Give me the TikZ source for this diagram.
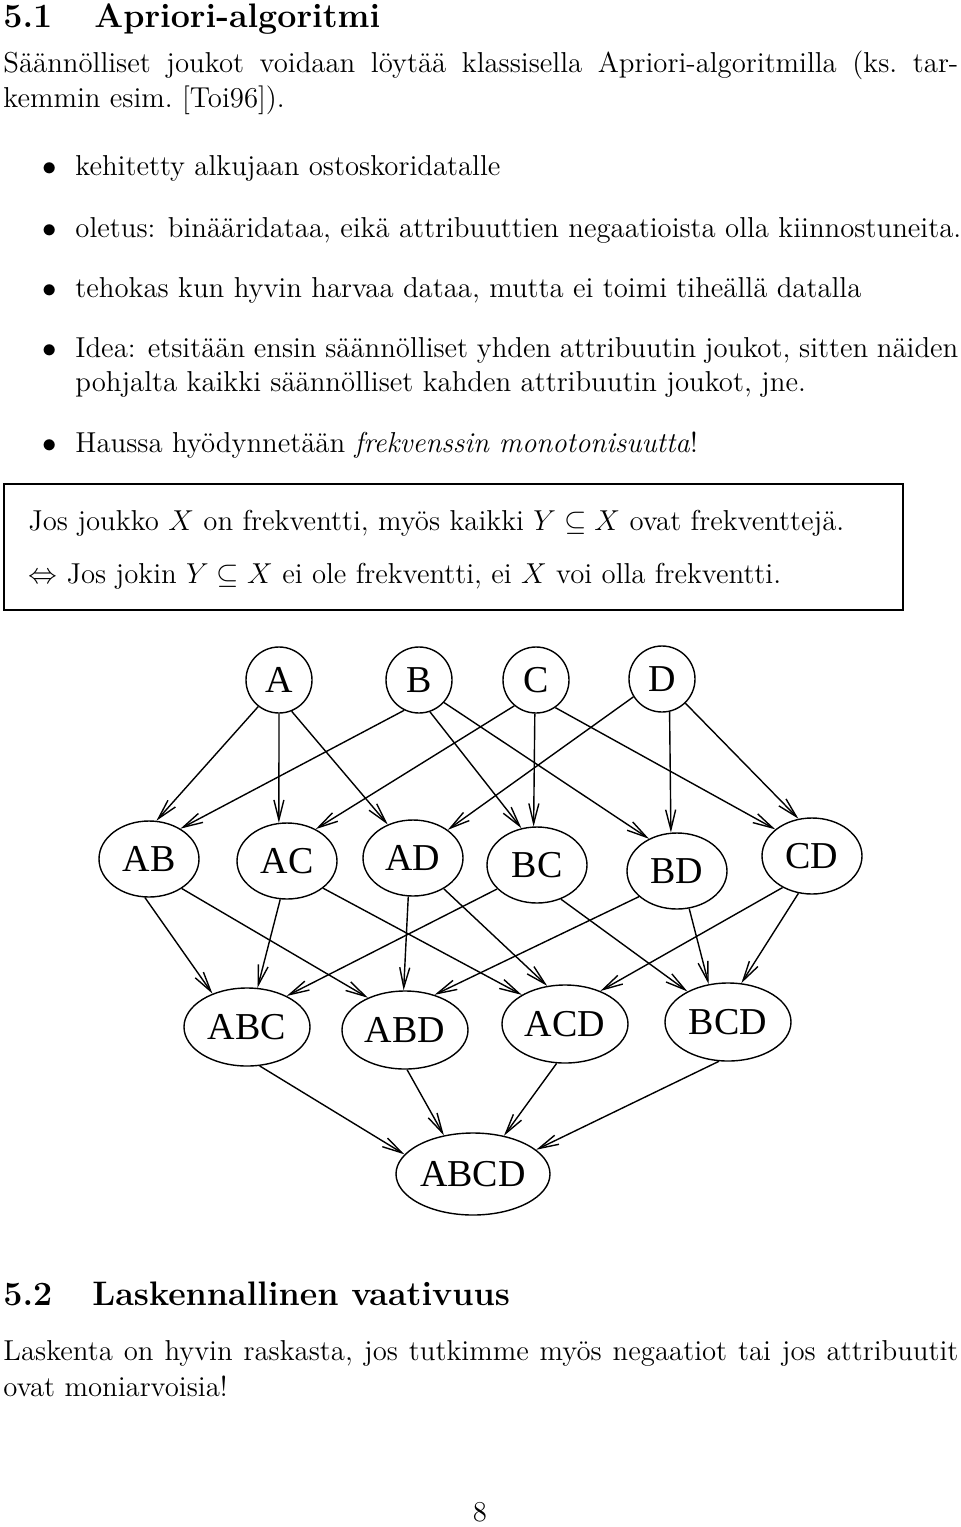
\documentclass[tikz,border=0pt]{standalone}
\usepackage{fontspec}
\usepackage{amsmath,amssymb}
\newfontfamily\figfont{Liberation Serif}
\usetikzlibrary{arrows.meta,shapes.geometric}

\begin{document}
\begin{tikzpicture}[
  x=0.5pt, y=-0.5pt,
  txt/.style={anchor=base west, inner sep=0pt, font=\fontsize{14.4pt}{17pt}\selectfont},
  sechead/.style={anchor=base west, inner sep=0pt, font=\fontsize{17pt}{20pt}\selectfont\bfseries},
  bulletmark/.style={anchor=base, inner sep=0pt, font=\fontsize{14.4pt}{17pt}\selectfont},
  setnode/.style={draw, inner sep=0pt, line width=0.7pt, font=\figfont\fontsize{19pt}{19pt}\selectfont},
  single/.style={setnode, circle, minimum size=33pt},
  pair/.style={setnode, ellipse, minimum width=50pt, minimum height=38pt},
  triple/.style={setnode, ellipse, minimum width=63pt, minimum height=39pt},
  full/.style={setnode, ellipse, minimum width=77pt, minimum height=41pt},
  line/.style={-{Straight Barb[length=10pt,width=5pt]}, line width=0.7pt},
  rulebox/.style={draw, line width=0.8pt, inner sep=0pt, anchor=north west}
]
\useasboundingbox (0,0) rectangle (960,1527);

% 5.1 text
\node[sechead] (secnum) at (3,27) {5.1};
\node[sechead] (sectitle) at (94,27) {Apriori-algoritmi};
\node[txt] (intro1) at (3,72) {\makebox[477.5pt][s]{Säännölliset joukot voidaan löytää klassisella Apriori-algoritmilla (ks.\ tar-}};
\node[txt] (intro2) at (3,107) {kemmin esim.\ [Toi96]).};

\node[bulletmark] (b1) at (50,175) {$\bullet$};
\node[txt] (item1) at (75,175) {kehitetty alkujaan ostoskoridatalle};
\node[bulletmark] (b2) at (50,237) {$\bullet$};
\node[txt] (item2) at (75,237) {oletus: binääridataa, eikä attribuuttien negaatioista olla kiinnostuneita.};
\node[bulletmark] (b3) at (50,297) {$\bullet$};
\node[txt] (item3) at (75,297) {tehokas kun hyvin harvaa dataa, mutta ei toimi tiheällä datalla};
\node[bulletmark] (b4) at (50,357) {$\bullet$};
\node[txt] (item4) at (75,357) {\makebox[441.5pt][s]{Idea: etsitään ensin säännölliset yhden attribuutin joukot, sitten näiden}};
\node[txt] (item4b) at (75,391) {pohjalta kaikki säännölliset kahden attribuutin joukot, jne.};
\node[bulletmark] (b5) at (50,452) {$\bullet$};
\node[txt] (item5) at (75,452) {Haussa hyödynnetään \textit{frekvenssin monotonisuutta}!};

% framed rule
\node[rulebox, minimum width=449.5pt, minimum height=63pt] (rule) at (3,483) {};
\node[txt] (rule1) at (28,530) {Jos joukko $X$ on frekventti, myös kaikki $Y \subseteq X$ ovat frekventtejä.};
\node[txt] (rule2) at (28,583) {$\Leftrightarrow$ Jos jokin $Y \subseteq X$ ei ole frekventti, ei $X$ voi olla frekventti.};

% lattice
\node[single] (A) at (279,680) {A};
\node[single] (B) at (419,680) {B};
\node[single] (C) at (536,680) {C};
\node[single] (D) at (662,679) {D};

\node[pair] (AB) at (149,859) {AB};
\node[pair] (AC) at (287,861) {AC};
\node[pair] (AD) at (413,858) {AD};
\node[pair] (BC) at (537,865) {BC};
\node[pair] (BD) at (677,871) {BD};
\node[pair] (CD) at (812,856) {CD};

\node[triple] (ABC) at (247,1027) {ABC};
\node[triple] (ABD) at (405,1030) {ABD};
\node[triple] (ACD) at (565,1024) {ACD};
\node[triple] (BCD) at (728,1022) {BCD};

\node[full] (ABCD) at (473,1174) {ABCD};

\draw[line] (A.232) -- (AB.79);
\draw[line] (A.270) -- (AC.102);
\draw[line] (A.292) -- (AD.127);
\draw[line] (B.244) -- (AB.44);
\draw[line] (B.289) -- (BC.113);
\draw[line] (B.318) -- (BD.131);
\draw[line] (C.230) -- (AC.48);
\draw[line] (C.268) -- (BC.95);
\draw[line] (C.305) -- (CD.144);
\draw[line] (D.212) -- (AD.39);
\draw[line] (D.283) -- (BD.99);
\draw[line] (D.314) -- (CD.110);

\draw[line] (AB.264) -- (ABC.136);
\draw[line] (AB.318) -- (ABD.139);
\draw[line] (AC.260) -- (ABC.75);
\draw[line] (AC.323) -- (ACD.146);
\draw[line] (AD.263) -- (ABD.92);
\draw[line] (AD.315) -- (ACD.115);
\draw[line] (BC.211) -- (ABC.38);
\draw[line] (BC.305) -- (BCD.143);
\draw[line] (BD.214) -- (ABD.50);
\draw[line] (BD.288) -- (BCD.117);
\draw[line] (CD.227) -- (ACD.43);
\draw[line] (CD.250) -- (BCD.71);

\draw[line] (ABC.288) -- (ABCD.164);
\draw[line] (ABD.273) -- (ABCD.127);
\draw[line] (ACD.258) -- (ABCD.51);
\draw[line] (BCD.257) -- (ABCD.21);

% 5.2 text
\node[sechead] (secnum2) at (3,1305) {5.2};
\node[sechead] (sectitle2) at (92,1305) {Laskennallinen vaativuus};
\node[txt] (outro1) at (3,1360) {\makebox[477.5pt][s]{Laskenta on hyvin raskasta, jos tutkimme myös negaatiot tai jos attribuutit}};
\node[txt] (outro2) at (3,1396) {ovat moniarvoisia!};

\node[bulletmark] (pagenum) at (480,1521) {8};
\end{tikzpicture}
\end{document}
